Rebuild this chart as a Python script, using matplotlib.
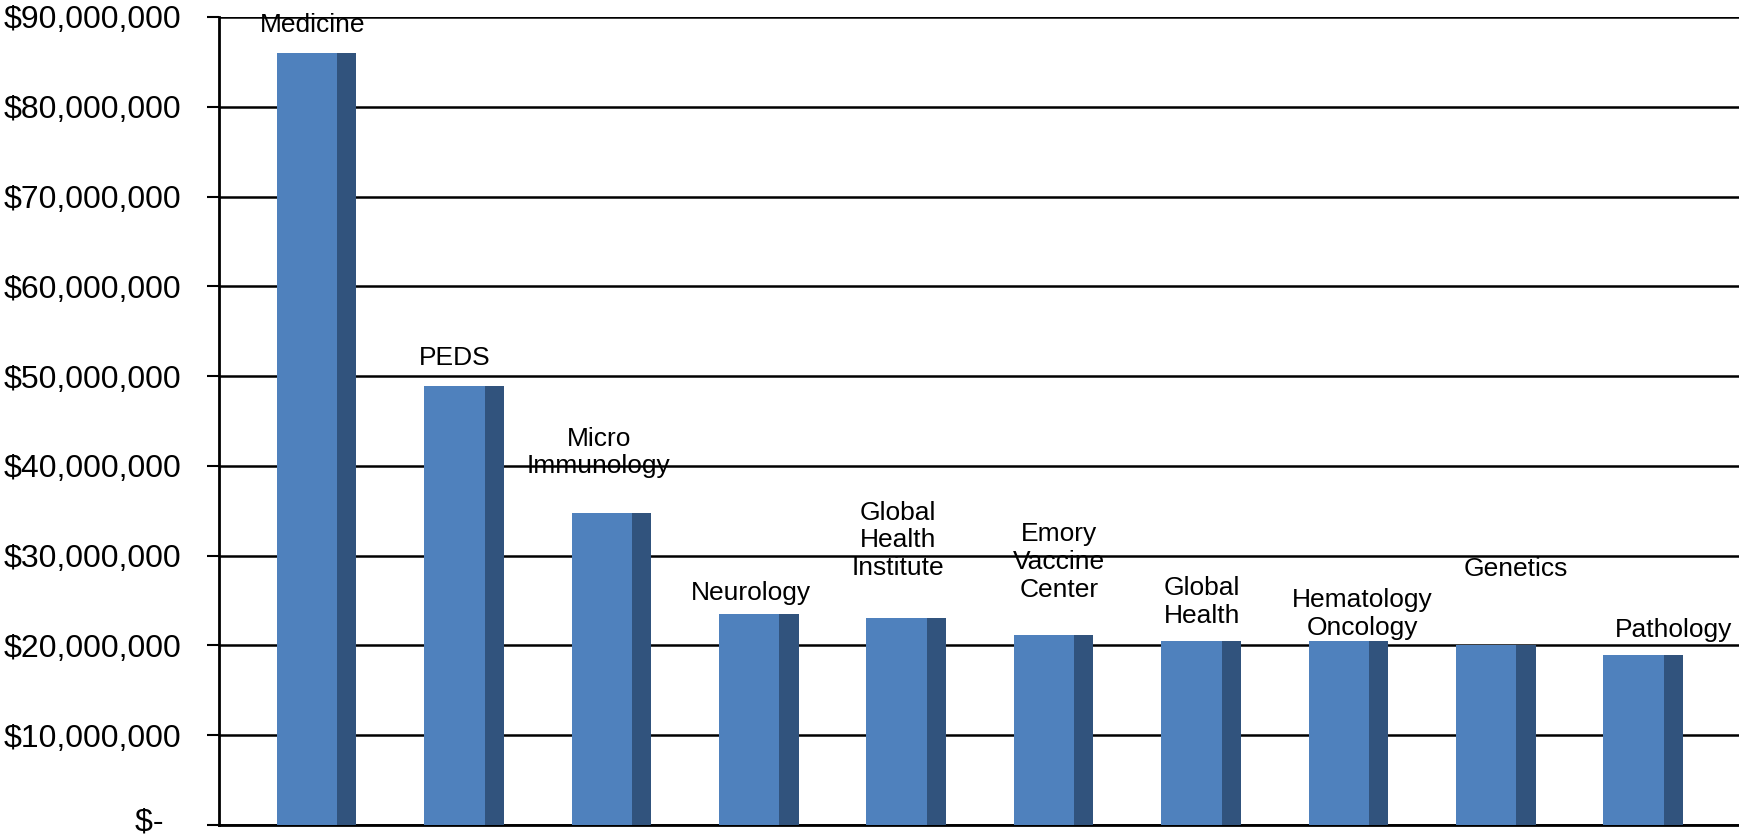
import numpy as np
import matplotlib.pyplot as plt
from matplotlib.ticker import FuncFormatter
from matplotlib.transforms import ScaledTranslation

# Department funding (USD)
departments = ['Medicine', 'PEDS', 'Micro\nImmunology', 'Neurology',
               'Global\nHealth\nInstitute', 'Emory\nVaccine\nCenter',
               'Global\nHealth', 'Hematology\nOncology', 'Genetics', 'Pathology']
funding = np.array([86.0, 48.9, 34.8, 23.5, 23.1, 21.2, 20.5, 20.5, 20.0, 18.9]) * 1e6

# label placement (Excel put them in odd spots)
label_dx = [0.04, 0.0, -0.02, 0.01, 0.01, 0.10, 0.07, 0.16, 0.20, 0.27]
label_dy = [3.1, 3.1, 6.7, 2.3, 8.6, 8.1, 4.3, 3.0, 8.5, 2.8]

front_color = '#4F81BD'
side_color = '#31537D'

plt.rcParams['font.family'] = ['Liberation Sans', 'DejaVu Sans']

fig = plt.figure(figsize=(17.39, 8.40), dpi=100)
ax = fig.add_axes([219 / 1739, 15 / 840, 1520 / 1739, 808 / 840])

x = np.arange(len(departments))
w_front = 0.41
w_side = 0.13
ax.bar(x, funding, width=w_front, color=front_color, zorder=3)
ax.bar(x + w_front / 2, funding, width=w_side, align='edge', color=side_color, zorder=3)

for i, (name, val) in enumerate(zip(departments, funding)):
    ax.text(i + label_dx[i], val + label_dy[i] * 1e6, name, ha='center', va='center',
            fontsize=19, linespacing=1.2, zorder=1)

ax.set_xlim(-0.597, 9.715)
ax.set_ylim(0, 90e6)
ax.set_yticks(np.arange(0, 90e6 + 1, 10e6))
ax.yaxis.set_major_formatter(FuncFormatter(lambda v, p: '$-  ' if v == 0 else '${:,.0f}'.format(v)))
ax.tick_params(axis='y', labelsize=23, length=9, width=1.5, pad=18)
ax.set_xticks([])
ax.grid(axis='y', color='black', linewidth=1.8, zorder=2)
ax.set_axisbelow(False)

# nudge the "$-" label up a little so it stays inside the figure
zero_lbl = ax.yaxis.get_major_ticks()[0].label1
zero_lbl.set_transform(zero_lbl.get_transform() + ScaledTranslation(0, 4 / 72, fig.dpi_scale_trans))

for s in ['top', 'right']:
    ax.spines[s].set_visible(False)
ax.spines['left'].set_linewidth(2)
ax.spines['bottom'].set_linewidth(2)

fig.savefig('out.png', dpi=100)
